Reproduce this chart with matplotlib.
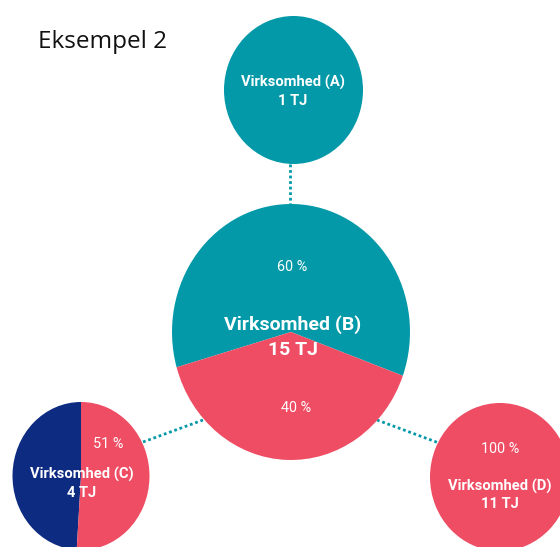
import matplotlib
matplotlib.use("Agg")
import matplotlib.pyplot as plt

W, H = 560, 547

TEAL = "#0399A8"
RED = "#EE4D64"
NAVY = "#0E2B82"

title = "Eksempel 2"
names = ["Virksomhed (A)", "Virksomhed (B)", "Virksomhed (C)", "Virksomhed (D)"]
energy_tj = [1, 15, 4, 11]
shares = [[100], [60, 40], [49, 51], [100]]
share_colors = [[TEAL], [TEAL, RED], [NAVY, RED], [RED]]
start_angles = [90, -20, 90, 90]
shown_pct = [[], [0, 1], [1], [0]]

# layout (pixel coords): centre x, centre y, half width, half height
boxes = [(293.5, 90, 69.5, 74), (291, 332, 119, 128), (81, 476, 68.5, 74), (500, 477, 70, 74)]
name_base = [(293, 87), (293, 330), (82, 479), (500, 491)]
tj_base = [(293, 105), (293, 355), (82, 497), (500, 508)]
pct_base = {(1, 0): (292.5, 271), (1, 1): (296, 412), (2, 1): (108, 448), (3, 0): (500, 453)}
name_size = [10.6, 14, 10.6, 10.6]
links = [((290, 164), (290, 204)), ((143, 442), (203, 420)), ((377, 420), (439, 443))]

fig = plt.figure(figsize=(W / 100, H / 100), dpi=100)
bg = fig.add_axes([0, 0, 1, 1])
bg.set_xlim(0, W)
bg.set_ylim(H, 0)
bg.axis("off")

for (p0, p1) in links:
    bg.plot([p0[0], p1[0]], [p0[1], p1[1]], color=TEAL, lw=2.0,
            linestyle=(0, (1, 1)), solid_capstyle="butt", dash_capstyle="butt", zorder=1)

for i, (cx, cy, rx, ry) in enumerate(boxes):
    ax = fig.add_axes([(cx - rx) / W, 1 - (cy + ry) / H, 2 * rx / W, 2 * ry / H])
    ax.pie(shares[i], colors=share_colors[i], startangle=start_angles[i],
           radius=1, wedgeprops=dict(linewidth=0, antialiased=True))
    ax.set_aspect("auto")
    ax.set_xlim(-1, 1)
    ax.set_ylim(-1, 1)
    ax.axis("off")
    ax.set_zorder(2)

top = fig.add_axes([0, 0, 1, 1])
top.set_xlim(0, W)
top.set_ylim(H, 0)
top.axis("off")
top.set_zorder(5)
top.patch.set_alpha(0)

top.text(38, 48, title, fontsize=17.5, family="Open Sans", color="#111111",
         ha="left", va="baseline")

for i in range(4):
    fs = name_size[i]
    top.text(*name_base[i], names[i], fontsize=fs, family="Roboto", weight="bold",
             color="white", ha="center", va="baseline")
    top.text(*tj_base[i], f"{energy_tj[i]} TJ", fontsize=fs, family="Roboto",
             weight="bold", color="white", ha="center", va="baseline")
    for j in shown_pct[i]:
        top.text(*pct_base[(i, j)], f"{shares[i][j]} %", fontsize=10.4, family="Roboto",
                 color="white", ha="center", va="baseline")

fig.savefig("out.png", dpi=100)
